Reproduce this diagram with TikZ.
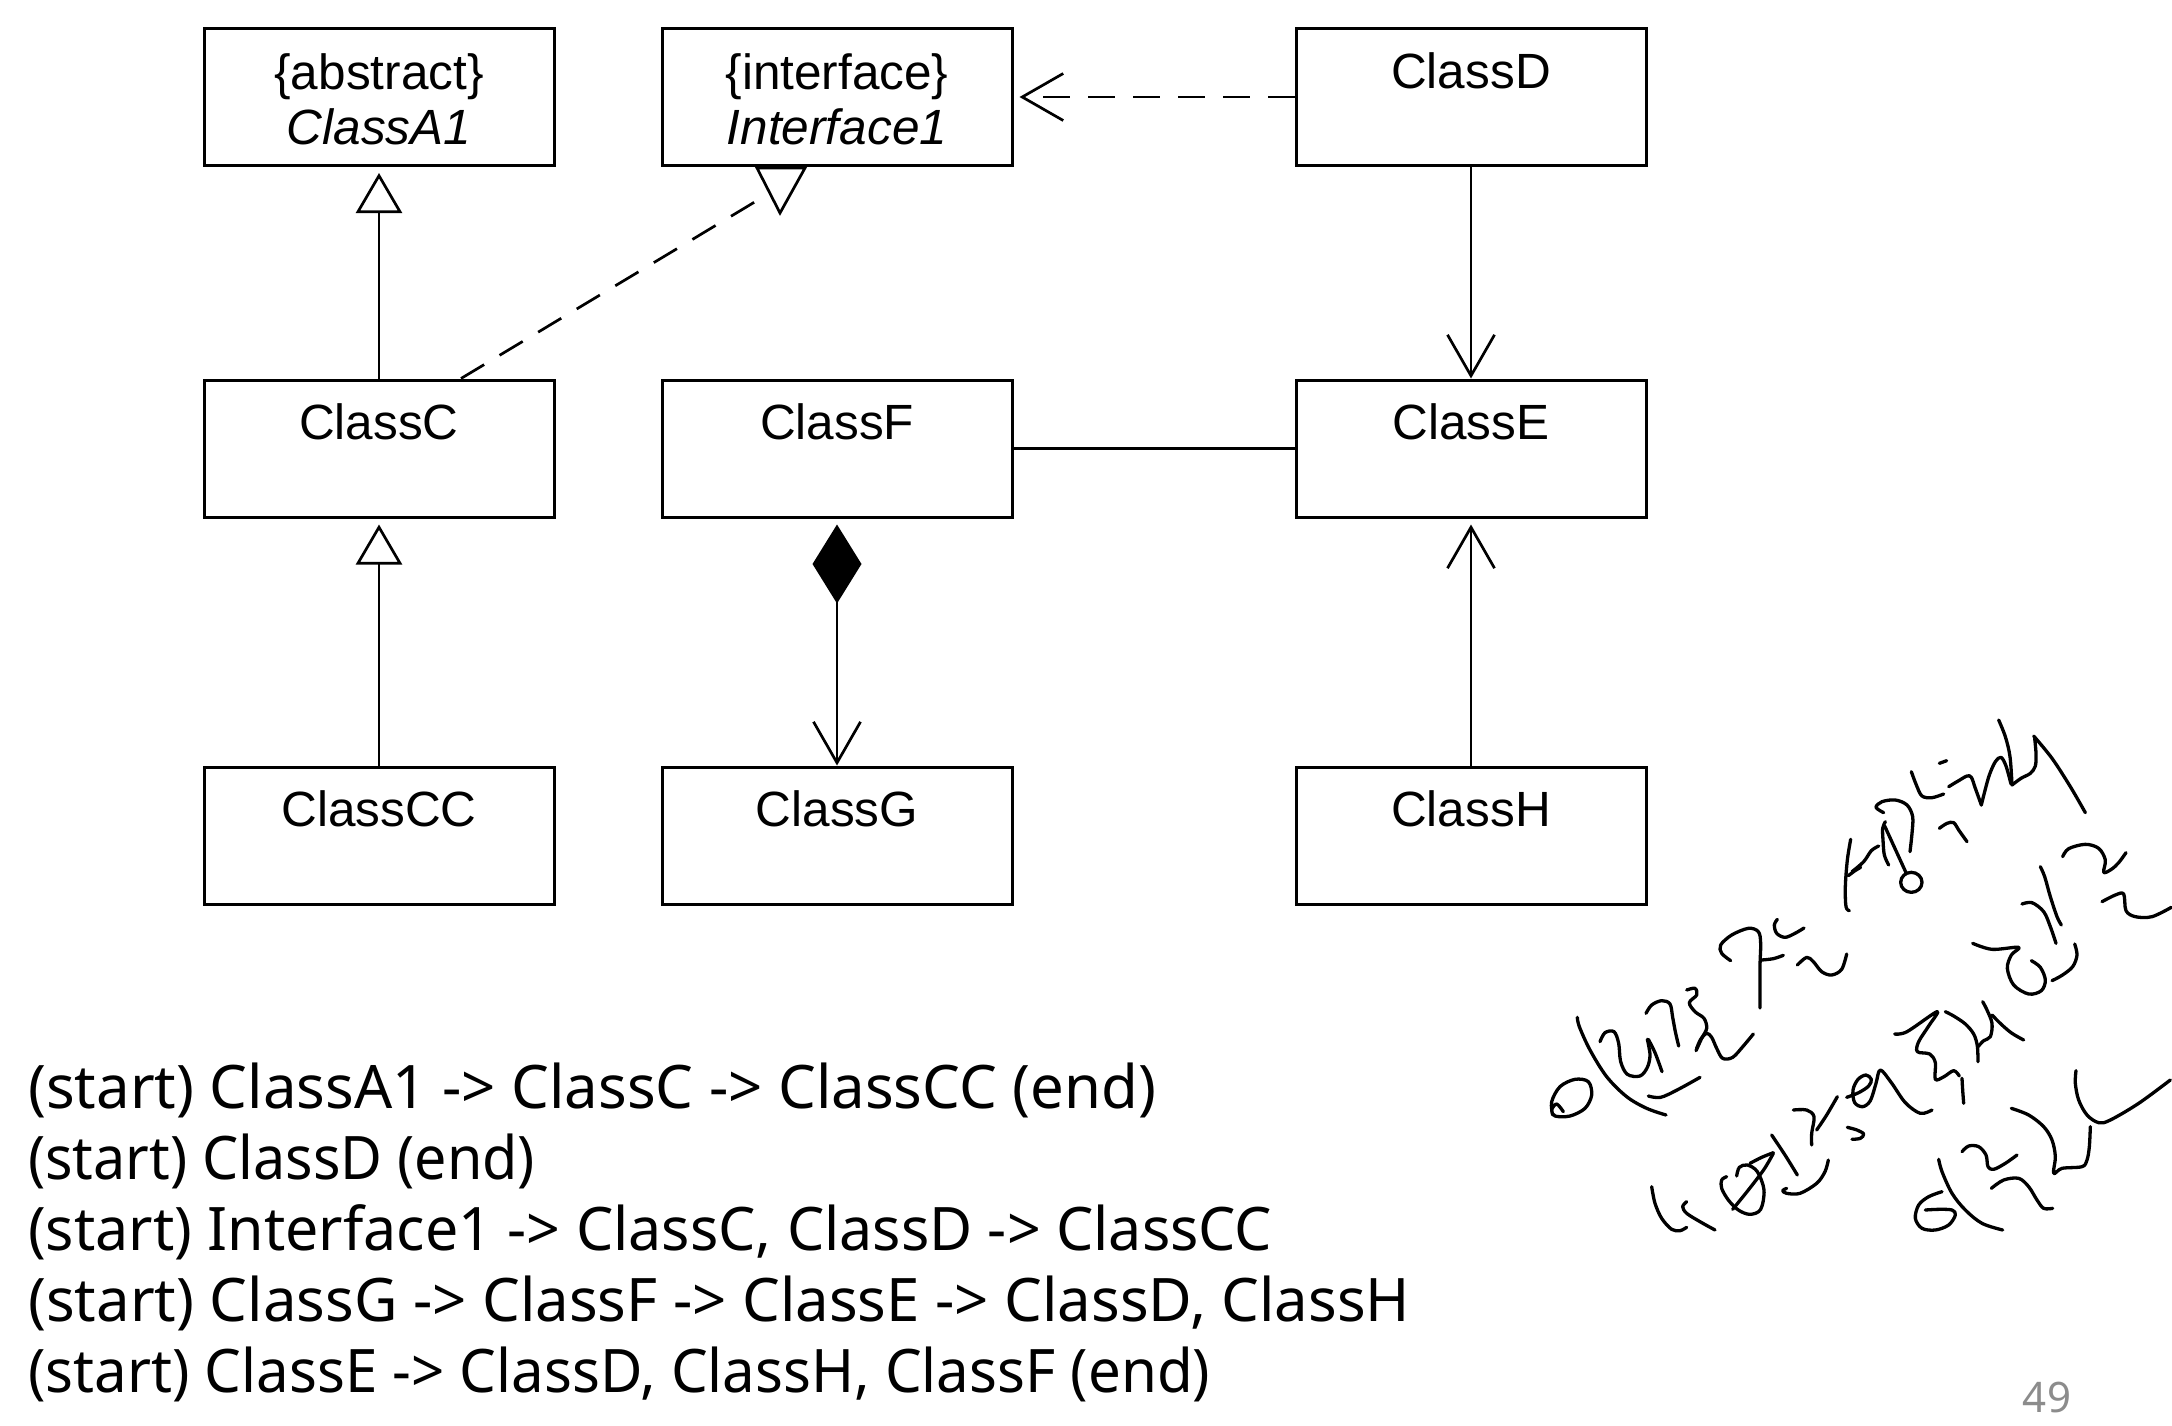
\documentclass[tikz,border=0pt]{standalone}
\usepackage{graphicx}
\usepackage{fontspec}
\setmainfont{Liberation Sans}
\newfontfamily\notofont{Noto Sans}
\usetikzlibrary{arrows.meta}
\definecolor{pagegray}{RGB}{140,140,140}
\begin{document}
\begin{tikzpicture}[x=1pt,y=-1pt,
  cls/.style={draw, line width=3pt, minimum width=350pt, minimum height=137pt, inner sep=0pt},
  lbl/.style={font=\fontsize{49.5}{58}\selectfont, anchor=base, inner sep=0pt},
  ilbl/.style={lbl, font=\fontsize{49.5}{58}\selectfont\itshape},
  conn/.style={line width=2.7pt},
  dsh/.style={conn, dash pattern=on 27pt off 18pt},
  vhead/.style={-{Straight Barb[length=41pt,width=47pt]}},
  txt/.style={font=\notofont\fontsize{60}{71}\selectfont, anchor=base west, inner sep=0pt},
  hand/.style={line width=3.3pt, line cap=round, line join=round},
  sm/.style={smooth, tension=0.55}
]
\useasboundingbox (0,0) rectangle (2172,1425);
\fill[white] (0,0) rectangle (2172,1425);

% boxes
\node[cls] (A1) at (379,97) {};
\node[cls] (I1) at (837,97) {};
\node[cls] (D) at (1471,97) {};
\node[cls] (C) at (379,448.5) {};
\node[cls] (F) at (837,448.5) {};
\node[cls] (E) at (1471,448.5) {};
\node[cls] (CC) at (379,835.5) {};
\node[cls] (G) at (837,835.5) {};
\node[cls] (H) at (1471,835.5) {};

% labels
\node[lbl] (A1s) at ([yshift=-62pt]A1.north) {\{abstract\}};
\node[ilbl] (A1n) at ([yshift=-117pt]A1.north) {ClassA1};
\node[lbl] (I1s) at ([yshift=-62pt]I1.north) {\{interface\}};
\node[ilbl] (I1n) at ([yshift=-117pt]I1.north) {Interface1};
\node[lbl] (Dn) at ([yshift=-61pt]D.north) {ClassD};
\node[lbl] (Cn) at ([yshift=-61pt]C.north) {ClassC};
\node[lbl] (Fn) at ([yshift=-61pt]F.north) {ClassF};
\node[lbl] (En) at ([yshift=-61pt]E.north) {ClassE};
\node[lbl] (CCn) at ([yshift=-61pt]CC.north) {ClassCC};
\node[lbl] (Gn) at ([yshift=-61pt]G.north) {ClassG};
\node[lbl] (Hn) at ([yshift=-61pt]H.north) {ClassH};

% connectors
\draw[conn, -{Triangle[open,length=40pt,width=46pt]}, shorten >=6pt] (C) -- (A1);
\draw[conn, -{Triangle[open,length=40pt,width=46pt]}, shorten >=6pt] (CC) -- (C);
% realization to interface (inverted triangle as drawn in the source)
\coordinate (Ct) at ([xshift=82pt]C.north);
\coordinate (Rt) at ([xshift=-74pt,yshift=-30pt]I1.south);
\draw[dsh] (Ct) -- (Rt);
\draw[conn, line join=miter] ([xshift=-80pt,yshift=-1pt]I1.south) -- ([xshift=-32pt,yshift=-1pt]I1.south) -- ([xshift=-57pt,yshift=-46pt]I1.south) -- cycle;
% dependency D -> Interface1
\draw[dsh, vhead, shorten >=6pt] (D) -- (I1);
% D -> E
\draw[conn, vhead] (D) -- (E);
% F -- E
\draw[conn] (F) -- (E);
% F composition G
\draw[conn, {Diamond[length=79pt,width=49pt]}-{Straight Barb[length=41pt,width=47pt]}, shorten <=6pt] (F) -- (G);
% H -> E
\draw[conn, vhead, shorten >=6pt] (H) -- (E);

% bottom text
\node[txt] (l1) at (28,1108) {\resizebox{1128pt}{\height}{(start) ClassA1 -> ClassC -> ClassCC (end)}};
\node[txt] (l2) at (28,1179) {\resizebox{507pt}{\height}{(start) ClassD (end)}};
\node[txt] (l3) at (28,1250) {\resizebox{1244pt}{\height}{(start) Interface1 -> ClassC, ClassD -> ClassCC}};
\node[txt] (l4) at (28,1321) {\resizebox{1382pt}{\height}{(start) ClassG -> ClassF -> ClassE -> ClassD, ClassH}};
\node[txt] (l5) at (28,1392) {\resizebox{1182pt}{\height}{(start) ClassE -> ClassD, ClassH, ClassF (end)}};
\node[font=\notofont\fontsize{42}{50}\selectfont, text=pagegray, anchor=base, inner sep=0pt] (pg) at (2047,1412) {49};

% handwriting
\begin{scope}[shift={(1540,720)}, scale=1/3]
\draw[hand] plot[sm] coordinates {(932,358) (922,420) (916,500) (918,560) (928,572)};
\draw[hand] plot[sm] coordinates {(925,467) (945,452) (962,442)};
\draw[hand] plot[sm] coordinates {(572,722) (545,700) (542,675) (575,645) (625,625) (655,635) (662,670) (660,740) (660,864)};
\draw[hand] plot[sm] coordinates {(665,720) (700,716) (730,706)};
\draw[hand] plot[sm] coordinates {(712,598) (703,615) (710,640) (735,652) (765,640) (792,624)};
\draw[hand] plot[sm] coordinates {(772,735) (800,712) (820,725) (845,755) (875,765) (905,748) (920,702)};
\end{scope}
\begin{scope}[shift={(1852,720)}, scale=1/3]
\draw[hand] plot[sm] coordinates {(0,455) (35,425) (58,392) (80,378)};
\draw[hand] plot[sm] coordinates {(95,278) (72,262) (90,245) (130,240) (165,255) (182,290) (180,340) (174,395)};
\draw[hand] plot[sm] coordinates {(100,305) (92,325) (93,360) (97,405) (110,435)};
\draw[hand] (98,318) -- (162,458);
\draw[hand] (178,487) ellipse [x radius=32, y radius=30];
\draw[hand] plot[sm] coordinates {(178,155) (193,195) (210,228) (240,233) (275,222)};
\draw[hand] plot[sm] coordinates {(262,130) (284,122)};
\draw[hand] plot[sm] coordinates {(262,325) (285,310) (305,308) (320,330) (345,365)};
\draw[hand] plot[sm] coordinates {(290,200) (320,182) (345,168) (358,172) (370,205) (388,255)};
\draw[hand] plot[sm] coordinates {(388,255) (398,215) (412,165) (430,125) (447,112) (462,138) (477,192)};
\draw[hand] plot[sm] coordinates {(440,0) (460,50) (474,110) (480,195)};
\draw[hand] plot[sm] coordinates {(480,195) (507,175) (535,160) (550,138) (552,100) (548,55)};
\draw[hand] plot[sm] coordinates {(545,48) (600,115) (655,200) (700,278)};
\draw[hand] plot[sm] coordinates {(632,410) (650,386) (700,373) (740,385) (760,420) (755,457) (778,448) (800,428) (822,398)};
\draw[hand] plot[sm] coordinates {(750,545) (790,525) (815,522) (822,572) (850,590) (900,590) (958,562)};
\draw[hand] plot[sm] coordinates {(565,440) (578,470) (595,530) (615,590) (628,615)};
\draw[hand] plot[sm] coordinates {(510,552) (540,548) (575,575) (595,620) (612,670)};
\draw[hand] plot[sm] coordinates {(362,670) (420,688) (500,682) (478,705) (466,745) (485,795) (530,822) (568,812) (580,780) (565,742) (538,722)};
\draw[hand] plot[sm] coordinates {(668,672) (675,705) (662,740) (630,766) (600,782)};
\end{scope}
\begin{scope}[shift={(1540,980)}, scale=1/3]
\draw[hand] plot[sm] coordinates {(70,395) (50,372) (35,390) (45,408) (90,408) (135,385) (155,345) (145,305) (105,298) (60,320) (35,365) (38,405)};
\draw[hand] plot[sm] coordinates {(112,112) (118,140) (150,210) (200,290) (260,350) (320,385) (378,405)};
\draw[hand] plot[sm] coordinates {(180,185) (195,158) (222,155) (236,190) (242,245) (262,283) (300,288) (322,262) (330,225) (322,178)};
\draw[hand] plot[sm] coordinates {(325,178) (345,218) (366,275)};
\draw[hand] plot[sm] coordinates {(318,100) (335,75) (365,62) (390,72) (398,112) (406,155) (416,198)};
\draw[hand] plot[sm] coordinates {(440,30) (465,25) (470,45) (448,68) (465,95) (492,115) (500,145) (485,175) (468,212)};
\draw[hand] plot[sm] coordinates {(470,205) (482,178) (500,160) (515,172) (530,205) (548,235) (578,232) (610,198) (640,162)};
\draw[hand] plot[sm] coordinates {(325,348) (362,352) (415,328) (480,292)};
\draw[hand] plot[sm] coordinates {(335,620) (345,670) (365,715) (395,748) (420,752) (440,742)};
\draw[hand] plot[sm] coordinates {(440,665) (428,680) (440,700) (480,725) (525,750)};
\draw[hand] plot[sm] coordinates {(590,588) (598,562) (622,555) (652,575) (672,630) (662,688) (630,703) (595,690) (565,660) (545,625) (545,600) (560,590)};
\draw[hand] plot[sm] coordinates {(578,688) (625,630) (672,568) (700,520)};
\draw[hand] plot[sm] coordinates {(630,550) (665,532) (700,518)};
\draw[hand] plot[sm] coordinates {(695,465) (735,525) (772,585)};
\draw[hand] plot[sm] coordinates {(740,625) (728,632) (740,640) (780,640) (830,610) (855,575) (865,540)};
\draw[hand] plot[sm] coordinates {(760,390) (800,390) (822,410) (815,460) (815,495)};
\draw[hand] plot[sm] coordinates {(830,450) (860,405) (892,350)};
\end{scope}
\begin{scope}[shift={(1852,980)}, scale=1/3]
\draw[hand] plot[sm] coordinates {(-16,352) (20,338) (50,318) (58,298) (42,285) (18,298) (3,330) (8,368) (32,380) (55,362) (72,310) (85,270) (118,308) (160,368) (205,400) (240,390)};
\draw[hand] plot[sm] coordinates {(-14,442) (15,450) (35,462) (25,475) (0,478)};
\draw[hand] plot[sm] coordinates {(128,162) (165,155) (255,95) (230,138) (200,185) (196,215) (233,222) (250,248) (250,298) (276,290) (305,272) (322,288)};
\draw[hand] plot[sm] coordinates {(330,295) (332,330) (335,370)};
\draw[hand] plot[sm] coordinates {(280,95) (305,108) (340,132) (365,162) (376,198) (378,245)};
\draw[hand] plot[sm] coordinates {(378,200) (395,182) (415,170) (420,130) (405,90) (392,65)};
\draw[hand] plot[sm] coordinates {(420,105) (450,135) (480,160) (515,180)};
\draw[hand] plot[sm] coordinates {(478,385) (530,405) (575,440) (600,480) (610,530) (605,580) (630,565) (690,560) (705,540) (712,500) (715,440)};
\draw[hand] plot[sm] coordinates {(672,272) (670,310) (680,360) (705,405) (740,428) (775,420) (860,370) (955,300)};
\draw[hand] plot[sm] coordinates {(330,515) (350,498) (380,500) (402,525) (408,560) (425,568) (460,550) (495,525)};
\draw[hand] plot[sm] coordinates {(418,625) (455,600) (500,595) (530,620) (555,660) (575,685) (602,685)};
\draw[hand] plot[sm] coordinates {(260,538) (270,575) (300,640) (340,690) (390,730) (452,750)};
\draw[hand] plot[sm] coordinates {(270,635) (230,650) (200,675) (190,715) (210,745) (250,750) (290,735) (310,705) (300,690) (260,688) (220,690)};
\end{scope}
\end{tikzpicture}
\end{document}
